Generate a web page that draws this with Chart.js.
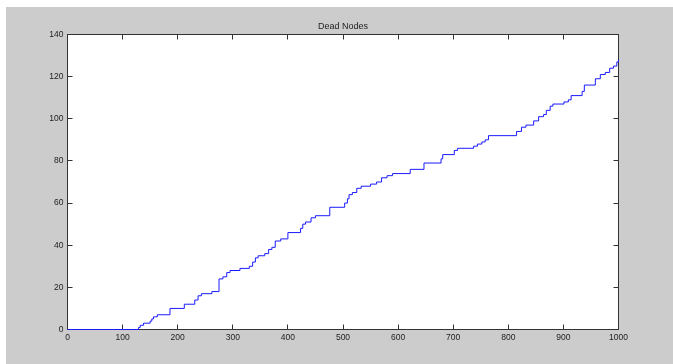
<!DOCTYPE html>
<html>
<head>
<meta charset="utf-8">
<style>
  html, body { margin: 0; padding: 0; background: #ffffff; }
  #wrap { width: 673px; height: 364px; }
</style>
<script src="https://cdn.jsdelivr.net/npm/chart.js@4/dist/chart.umd.min.js"></script>
</head>
<body>
<div id="wrap"><canvas id="c" width="673" height="364"></canvas></div>
<script>
// Simulation round at which the dead-node count changes, and the new count
const rounds = [
  0, 129, 132, 138, 150, 153, 156, 163, 186, 212,
  231, 237, 243, 262, 275, 282, 289, 295, 313, 330,
  336, 341, 346, 358, 365, 371, 377, 387, 400, 423,
  427, 432, 442, 450, 476, 503, 508, 511, 517, 525,
  533, 550, 561, 570, 580, 590, 622, 647, 678, 681,
  702, 708, 737, 744, 752, 758, 764, 815, 824, 832,
  846, 855, 864, 869, 876, 881, 901, 909, 914, 934,
  938, 958, 967, 976, 984, 991, 997, 1000
];
const deadNodes = [
  0, 1, 2, 3, 4, 5, 6, 7, 10, 12,
  14, 16, 17, 18, 24, 25, 27, 28, 29, 30,
  32, 34, 35, 36, 38, 39, 42, 43, 46, 48,
  50, 51, 53, 54, 58, 60, 62, 64, 65, 67,
  68, 69, 70, 72, 73, 74, 76, 79, 81, 83,
  85, 86, 87, 88, 89, 90, 92, 94, 96, 97,
  99, 101, 102, 104, 106, 107, 108, 109, 111, 113,
  116, 119, 121, 122, 124, 125, 127, 128
];
const xTicks = [0, 100, 200, 300, 400, 500, 600, 700, 800, 900, 1000];
const yTicks = [0, 20, 40, 60, 80, 100, 120, 140];
const chartTitle = 'Dead Nodes';

const FONT = '"Liberation Sans", Arial, sans-serif';
const AXIS_COLOR = '#333333';
const TICK_LEN = 5;

// Figure background, white axes box, frame with inward ticks on all four sides, and title
const figureFrame = {
  id: 'figureFrame',
  beforeDraw(chart) {
    const { ctx, width, height, chartArea: a } = chart;
    ctx.save();
    ctx.fillStyle = '#ffffff';
    ctx.fillRect(0, 0, width, height);
    ctx.fillStyle = '#cccccc';
    ctx.fillRect(6, 7, width - 6, height - 7);
    ctx.fillStyle = '#ffffff';
    ctx.fillRect(a.left, a.top, a.right - a.left, a.bottom - a.top);
    ctx.restore();
  },
  beforeDatasetsDraw(chart) {
    const { ctx, chartArea: a, scales } = chart;
    ctx.save();
    ctx.strokeStyle = AXIS_COLOR;
    ctx.lineWidth = 1;
    ctx.strokeRect(a.left, a.top, a.right - a.left, a.bottom - a.top);
    ctx.beginPath();
    xTicks.forEach(v => {
      const px = Math.round(scales.x.getPixelForValue(v) - 0.5) + 0.5;
      ctx.moveTo(px, a.bottom); ctx.lineTo(px, a.bottom - TICK_LEN);
      ctx.moveTo(px, a.top); ctx.lineTo(px, a.top + TICK_LEN);
    });
    yTicks.forEach(v => {
      const py = Math.round(scales.y.getPixelForValue(v) - 0.5) + 0.5;
      ctx.moveTo(a.left, py); ctx.lineTo(a.left + TICK_LEN, py);
      ctx.moveTo(a.right, py); ctx.lineTo(a.right - TICK_LEN, py);
    });
    ctx.stroke();

    ctx.fillStyle = '#222222';
    ctx.font = '9px ' + FONT;
    ctx.textAlign = 'center';
    ctx.textBaseline = 'middle';
    ctx.fillText(chartTitle, (a.left + a.right) / 2, 27);
    ctx.restore();
  }
};

const tickFont = { family: FONT, size: 8.5 };
const plainNumber = v => String(v);

new Chart(document.getElementById('c'), {
  type: 'line',
  data: {
    datasets: [{
      data: rounds.map((r, i) => ({ x: r, y: deadNodes[i] })),
      stepped: 'before',
      borderColor: '#1a1aff',
      borderWidth: 1,
      pointRadius: 0,
      fill: false,
      clip: 2
    }]
  },
  options: {
    responsive: false,
    animation: false,
    events: [],
    layout: { padding: { top: 34.5, right: 54.5, left: 0, bottom: 0 } },
    plugins: {
      legend: { display: false },
      tooltip: { enabled: false },
      title: { display: false }
    },
    scales: {
      x: {
        type: 'linear',
        min: 0,
        max: 1000,
        afterBuildTicks: s => { s.ticks = xTicks.map(v => ({ value: v })); },
        afterFit: s => { s.height = 34.5; },
        grid: { display: false, drawTicks: false },
        border: { display: false },
        ticks: { padding: 3, color: '#222222', font: tickFont, maxRotation: 0, autoSkip: false, callback: plainNumber }
      },
      y: {
        type: 'linear',
        min: 0,
        max: 140,
        afterBuildTicks: s => { s.ticks = yTicks.map(v => ({ value: v })); },
        afterFit: s => { s.width = 67.5; },
        grid: { display: false, drawTicks: false },
        border: { display: false },
        ticks: { padding: 4, color: '#222222', font: tickFont, autoSkip: false, callback: plainNumber }
      }
    }
  },
  plugins: [figureFrame]
});
</script>
</body>
</html>
